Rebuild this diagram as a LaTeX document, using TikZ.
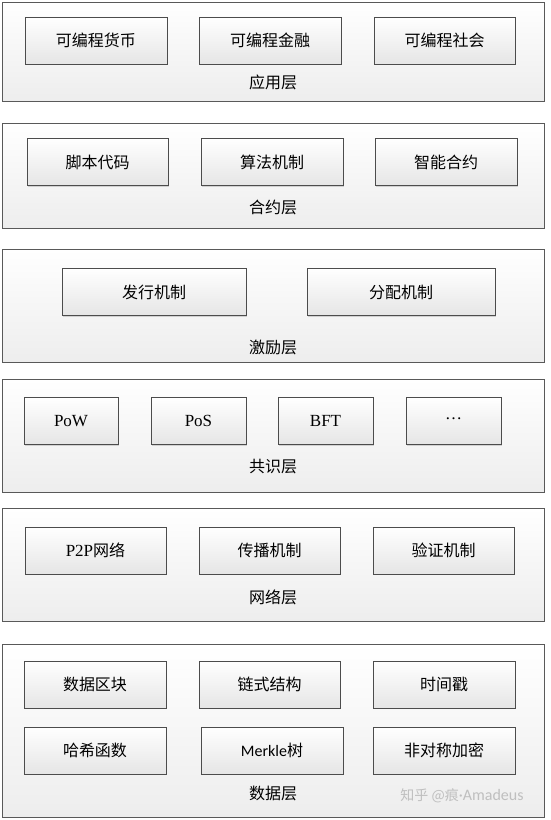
\documentclass[tikz,border=0pt]{standalone}
\usepackage{fontspec}
\setmainfont{Liberation Serif}
\newfontfamily\cjk{Noto Sans CJK SC}
\newfontfamily\calfont{Carlito}
\usetikzlibrary{shadows}

\begin{document}
\begin{tikzpicture}[x=1pt,y=-1pt,
  every node/.style={font=\cjk\fontsize{16}{18}\selectfont},
  layer/.style={draw=black!65,line width=0.8pt,top color=white,bottom color=black!7,
    drop shadow={shadow xshift=1pt,shadow yshift=-1.2pt,opacity=0.35},
    minimum width=542pt,inner sep=0pt},
  item/.style={draw=black!70,line width=0.8pt,top color=white,bottom color=black!10,
    drop shadow={shadow xshift=1pt,shadow yshift=-1pt,opacity=0.3},
    minimum height=47pt,inner sep=0pt},
  latin/.style={font=\rmfamily\fontsize{17}{18}\selectfont},
  title/.style={inner sep=0pt}]
\useasboundingbox (0,0) rectangle (550,820);
% application layer
\node[layer,minimum height=99pt] (app) at (273,51.5) {};
\node[item,minimum width=142pt] (app1) at (96,40.5) {可编程货币};
\node[item,minimum width=142pt] (app2) at (270,40.5) {可编程金融};
\node[item,minimum width=141pt] (app3) at (444.5,40.5) {可编程社会};
\node[title] (appt) at (273,82) {应用层};
% contract layer
\node[layer,minimum height=105pt] (con) at (273,175.5) {};
\node[item,minimum width=141pt] (con1) at (97.5,162) {脚本代码};
\node[item,minimum width=142pt] (con2) at (272,162) {算法机制};
\node[item,minimum width=142pt] (con3) at (446,162) {智能合约};
\node[title] (cont) at (273,207) {合约层};
% incentive layer
\node[layer,minimum height=113pt] (inc) at (273,305.5) {};
\node[item,minimum width=184pt] (inc1) at (154,292) {发行机制};
\node[item,minimum width=188pt] (inc2) at (401,292) {分配机制};
\node[title] (inct) at (273,347) {激励层};
% consensus layer
\node[layer,minimum height=113pt] (cns) at (273,435.5) {};
\node[item,latin,minimum width=94pt] (cns1) at (71,421) {PoW};
\node[item,latin,minimum width=95pt] (cns2) at (198.5,421) {PoS};
\node[item,latin,minimum width=95pt] (cns3) at (325.5,421) {BFT};
\node[item,latin,minimum width=95pt] (cns4) at (453.5,421) {\raisebox{4pt}{…}};
\node[title] (cnst) at (273,467) {共识层};
% network layer
\node[layer,minimum height=113pt] (net) at (273,564.5) {};
\node[item,minimum width=141pt] (net1) at (95.5,550.5) {{\rmfamily\fontsize{17}{18}\selectfont P2P}网络};
\node[item,minimum width=141pt] (net2) at (269.5,550.5) {传播机制};
\node[item,minimum width=141pt] (net3) at (443.5,550.5) {验证机制};
\node[title] (nett) at (273,597) {网络层};
% data layer
\node[layer,minimum height=173pt] (dat) at (273,730.5) {};
\node[item,minimum width=142pt] (dat1) at (95,684.5) {数据区块};
\node[item,minimum width=141pt] (dat2) at (269.5,684.5) {链式结构};
\node[item,minimum width=142pt] (dat3) at (444,684.5) {时间戳};
\node[item,minimum width=142pt] (dat4) at (95,750.5) {哈希函数};
\node[item,minimum width=142pt] (dat5) at (272,750.5) {{\calfont Merkle}树};
\node[item,minimum width=142pt] (dat6) at (444,750.5) {非对称加密};
\node[title] (datt) at (273,793) {数据层};
\node[title,text=black!25,font=\cjk\fontsize{14}{16}\selectfont] (mark) at (462,796) {知乎 @痕{\calfont\fontsize{16}{16}\selectfont ·Amadeus}};
\end{tikzpicture}
\end{document}
